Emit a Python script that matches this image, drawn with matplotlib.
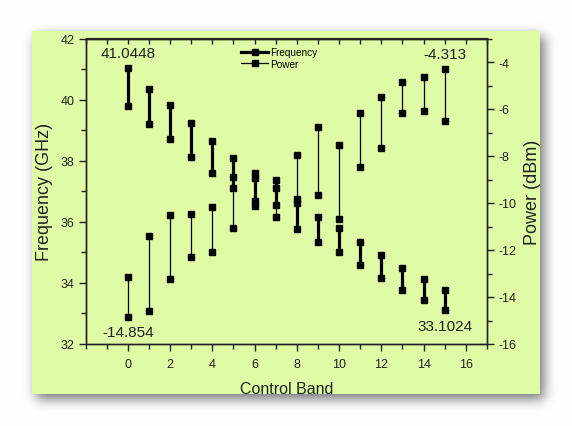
import math
import numpy as np
import matplotlib
matplotlib.use("Agg")
import matplotlib.pyplot as plt
from matplotlib.lines import Line2D
from matplotlib.patches import Rectangle
from matplotlib.ticker import MultipleLocator, FixedLocator

plt.rcParams['font.family'] = ['Liberation Sans', 'DejaVu Sans']
plt.rcParams['axes.unicode_minus'] = False

# ---- data ----
bands = list(range(16))
freq_hi = [41.04, 40.34, 39.81, 39.22, 38.64, 38.08, 37.61, 37.37, 36.73, 36.17, 35.79, 35.35, 34.91, 34.50, 34.14, 33.77]
freq_lo = [39.79, 39.19, 38.70, 38.13, 37.61, 37.10, 36.68, 36.55, 35.78, 35.35, 35.00, 34.58, 34.17, 33.78, 33.45, 33.10]
pow_hi = [-13.17, -11.42, -10.51, -10.46, -10.18, -8.91, -8.94, -9.37, -7.96, -6.75, -7.53, -6.17, -5.50, -4.83, -4.65, -4.31]
pow_lo = [-14.85, -14.60, -13.25, -12.31, -12.07, -11.05, -10.12, -10.58, -9.98, -9.65, -10.66, -8.46, -7.65, -6.15, -6.09, -6.51]
x_ticks = [0, 2, 4, 6, 8, 10, 12, 14, 16]
annot_texts = ["41.0448", "-14.854", "-4.313", "33.1024"]

W, H = 572, 427
fig = plt.figure(figsize=(W / 100, H / 100), dpi=100)
fig.patch.set_facecolor('white')

# soft drop shadow behind the panel
px0, py0, px1, py1 = 32, 32, 540, 395
dx, dy, sig = 4, 5, 6.0
erf = np.vectorize(math.erf)
xs = np.arange(W) + 0.5
ys = np.arange(H) + 0.5
fx = 0.5 * (erf((xs - (px0 + dx)) / (sig * math.sqrt(2))) - erf((xs - (px1 + dx)) / (sig * math.sqrt(2))))
fy = 0.5 * (erf((ys - (py0 + dy)) / (sig * math.sqrt(2))) - erf((ys - (py1 + dy)) / (sig * math.sqrt(2))))
sh = np.outer(fy, fx)
img = np.ones((H, W, 4))
val = 1 - 0.55 * sh
img[..., 0] = val
img[..., 1] = val
img[..., 2] = val
fig.figimage(img, xo=0, yo=0, origin='upper', zorder=0)

panel_color = '#dffba5'
fig.patches.append(Rectangle((px0 / W, 1 - py1 / H), (px1 - px0) / W, (py1 - py0) / H,
                             transform=fig.transFigure, facecolor=panel_color,
                             edgecolor='none', zorder=1))

ax_l, ax_r, ax_t, ax_b = 85.5, 487, 39.5, 345
ax = fig.add_axes([ax_l / W, 1 - ax_b / H, (ax_r - ax_l) / W, (ax_b - ax_t) / H])
ax.set_facecolor('none')
ax.set_zorder(2)
ax2 = ax.twinx()
ax2.set_facecolor('none')
ax2.set_zorder(3)

dark = '#222222'
thick, thin, ms = 2.3, 0.9, 5

for b, lo, hi in zip(bands, freq_lo, freq_hi):
    ax.plot([b, b], [lo, hi], color='black', lw=thick, marker='s', ms=ms,
            solid_capstyle='butt', zorder=3)
for b, lo, hi in zip(bands, pow_lo, pow_hi):
    ax2.plot([b, b], [lo, hi], color='black', lw=thin, marker='s', ms=ms, zorder=3)

ax.set_xlim(-2, 17)
ax.set_ylim(32, 42)
ax2.set_ylim(-16, -3)

ax.xaxis.set_major_locator(FixedLocator(x_ticks))
ax.xaxis.set_minor_locator(MultipleLocator(1))
ax.yaxis.set_major_locator(MultipleLocator(2))
ax.yaxis.set_minor_locator(MultipleLocator(1))
ax2.yaxis.set_major_locator(MultipleLocator(2))
ax2.yaxis.set_minor_locator(MultipleLocator(1))

for a in (ax, ax2):
    for s in a.spines.values():
        s.set_color(dark)
        s.set_linewidth(1.0)

ax.tick_params(axis='x', which='both', direction='out', bottom=True, top=False,
               labelsize=9, colors=dark, pad=5)
ax.tick_params(axis='x', which='major', length=5, width=1)
ax.tick_params(axis='x', which='minor', length=3.5, width=1)
ax.tick_params(axis='y', which='both', direction='out', left=True, right=False,
               labelsize=9, colors=dark, pad=3)
ax.tick_params(axis='y', which='major', length=5, width=1)
ax.tick_params(axis='y', which='minor', length=3.5, width=1)
ax2.tick_params(axis='y', which='both', direction='out', right=True, left=False,
                labelsize=9, colors=dark, pad=3)
ax2.tick_params(axis='y', which='major', length=5, width=1)
ax2.tick_params(axis='y', which='minor', length=3.5, width=1)

# top ticks pointing inward
sec = ax.secondary_xaxis('top')
sec.xaxis.set_major_locator(MultipleLocator(1))
sec.tick_params(axis='x', direction='in', length=4, width=1, labeltop=False, colors=dark)
sec.spines['top'].set_color(dark)

ax.set_xlabel('Control Band', fontsize=11.5, color=dark)
ax.set_ylabel('Frequency (GHz)', fontsize=13, color=dark)
ax2.set_ylabel('Power (dBm)', fontsize=13, color=dark)
ax.xaxis.set_label_coords(0.5, -0.122)
ax.yaxis.set_label_coords(-0.08, 0.5)
ax2.yaxis.set_label_coords(1.093, 0.5)

# value annotations
ax.text(bands[0], 41.52, annot_texts[0], ha='center', va='center', fontsize=11, color=dark)
ax.text(bands[0], 32.39, annot_texts[1], ha='center', va='center', fontsize=11, color=dark)
ax.text(bands[-1], 41.48, annot_texts[2], ha='center', va='center', fontsize=11, color=dark)
ax.text(bands[-1], 32.59, annot_texts[3], ha='center', va='center', fontsize=11, color=dark)

handles = [Line2D([], [], color='black', lw=thick, marker='s', ms=4),
           Line2D([], [], color='black', lw=thin, marker='s', ms=4)]
leg = fig.legend(handles, ['Frequency', 'Power'], loc='upper left',
                 bbox_to_anchor=(241 / W, 1 - 48 / H), bbox_transform=fig.transFigure,
                 frameon=False, fontsize=7.2, handlelength=2.7, handletextpad=0.2,
                 labelspacing=0.15, borderpad=0, borderaxespad=0)
leg.set_zorder(10)

fig.savefig('out.png', dpi=100)
